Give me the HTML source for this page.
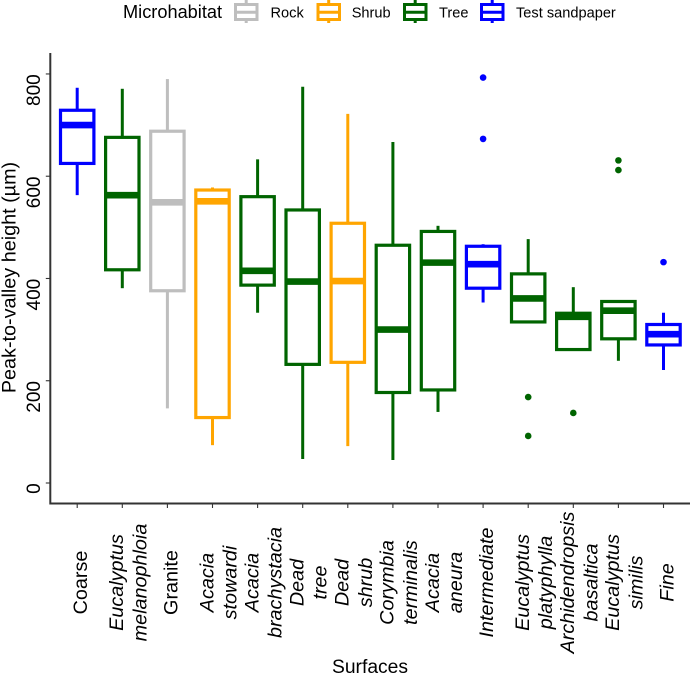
<!DOCTYPE html>
<html>
<head>
<meta charset="utf-8">
<style>
html,body{margin:0;padding:0;background:#fff;}
svg{display:block;font-family:"Liberation Sans",sans-serif;}
</style>
</head>
<body>
<svg id="chart" xmlns="http://www.w3.org/2000/svg" width="690" height="675" viewBox="0 0 690 675">
  <text x="123" y="18" font-size="18.2" fill="#000">Microhabitat</text>
  <text transform="translate(15.3,277.5) rotate(-90)" text-anchor="middle" font-size="19.8" fill="#000">Peak-to-valley height (µm)</text>
  <text x="370" y="673" text-anchor="middle" font-size="19.3" fill="#000">Surfaces</text>
  <g id="marks"></g>
  <g id="axes"></g>
  <g id="legend"></g>
</svg>
<script>
const categories = [["Coarse"],["Eucalyptus","melanophloia"],["Granite"],["Acacia","stowardi"],["Acacia","brachystacia"],["Dead","tree"],["Dead","shrub"],["Corymbia","terminalis"],["Acacia","aneura"],["Intermediate"],["Eucalyptus","platyphylla"],["Archidendropsis","basaltica"],["Eucalyptus","similis"],["Fine"]];
const upright = ["Coarse","Granite"];
const groups = ["Test sandpaper","Tree","Rock","Shrub","Tree","Tree","Shrub","Tree","Tree","Test sandpaper","Tree","Tree","Tree","Test sandpaper"];
const whiskerHigh = [773,771,790,578,633,775,722,667,503,467,477,383,355,333];
const q3 = [729,676,688,573,560,534,508,465,492,463,409,332,355,310];
const medians = [700,563,549,551,415,394,395,300,431,428,361,325,337,291];
const q1 = [625,417,376,128,387,232,236,177,182,381,315,261,282,270];
const whiskerLow = [563,381,146,74,333,47,72,45,139,353,312,261,239,221];
const outliers = [[],[],[],[],[],[],[],[],[],[793,673],[168,92],[137],[631,612],[432]];
const yTicks = [0,200,400,600,800];
const legendGroups = ["Rock","Shrub","Tree","Test sandpaper"];
const palette = {"Rock":"#bebebe","Shrub":"#ffa500","Tree":"#006400","Test sandpaper":"#0000ff"};

const NS = "http://www.w3.org/2000/svg";
const plotLeft = 50.3, plotRight = 690, plotTop = 53, plotBottom = 503.5;
function yScale(v){ return 483 - v * 0.5113; }
function xScale(i){ return 77.2 + 45.1 * i; }
function make(tag, parent, props){
  const el = document.createElementNS(NS, tag);
  for (const k in props) el.setAttribute(k, props[k]);
  parent.appendChild(el);
  return el;
}
const marks = document.getElementById("marks");
const axes = document.getElementById("axes");
const legend = document.getElementById("legend");

categories.forEach(function(cat, i){
  const c = palette[groups[i]];
  const x = xScale(i), hw = 16.7;
  const g = make("g", marks, {});
  
  
  const up = make("line", g, {x1:x, x2:x, y1:yScale(whiskerHigh[i]), y2:yScale(q3[i]), stroke:c, "stroke-width":3});
  
  
  const low = make("line", g, {x1:x, x2:x, y1:yScale(q1[i]), y2:yScale(whiskerLow[i]), stroke:c, "stroke-width":3});
  
  
  const box = make("rect", g, {x:x-hw, width:hw*2, y:yScale(q3[i]), height:yScale(q1[i])-yScale(q3[i]), fill:"#fff", stroke:c, "stroke-width":3.2});
  
  
  const med = make("line", g, {x1:x-hw, x2:x+hw, y1:yScale(medians[i]), y2:yScale(medians[i]), stroke:c, "stroke-width":6.6});
  
  
  outliers[i].forEach(function(v){
    const p = make("circle", g, {cx:x, cy:yScale(v), r:3.3, fill:c});
    
    
  });

  const tick = make("line", axes, {x1:x, x2:x, y1:plotBottom, y2:plotBottom+4.5, stroke:"#333", "stroke-width":1.1});
  
  
  const offsets = cat.length === 1 ? [10] : [0.8, 24];
  cat.forEach(function(line, j){
    const italic = upright.indexOf(line) < 0;
    const t = make("text", axes, {transform:"translate(" + (x + offsets[j]) + ",582.5) rotate(-90)", "text-anchor":"middle", "font-size":19.8, "font-style":italic ? "italic" : "normal", fill:"#000"});
    
    
    t.textContent = line;
  });
});

const yLine = make("line", axes, {x1:plotLeft, x2:plotLeft, y1:plotTop, y2:plotBottom+1, stroke:"#333", "stroke-width":2});


const xLine = make("line", axes, {x1:plotLeft, x2:plotRight, y1:plotBottom, y2:plotBottom, stroke:"#333", "stroke-width":2});



yTicks.forEach(function(v){
  const y = yScale(v);
  const tick = make("line", axes, {x1:plotLeft-4.5, x2:plotLeft, y1:y, y2:y, stroke:"#333", "stroke-width":1.1});
  
  
  const t = make("text", axes, {transform:"translate(40," + (y + 0.3) + ") rotate(-90)", "text-anchor":"end", "font-size":19, fill:"#000"});
  
  
  t.textContent = v;
});

const legendKeyX = [234.5, 317, 403.5, 480.5];
const legendTextX = [270.5, 351.7, 439, 516];
legendGroups.forEach(function(name, i){
  const c = palette[name];
  const kx = legendKeyX[i];
  const g = make("g", legend, {});
  
  
  make("line", g, {x1:kx+11.7, x2:kx+11.7, y1:0, y2:23, stroke:c, "stroke-width":3});
  make("rect", g, {x:kx+1, y:4.5, width:21.5, height:15, fill:"#fff", stroke:c, "stroke-width":3});
  make("line", g, {x1:kx+1, x2:kx+22.5, y1:12.3, y2:12.3, stroke:c, "stroke-width":3});
  const t = make("text", g, {x:legendTextX[i], y:17.5, "font-size":14.6, fill:"#000"});
  
  
  t.textContent = name;
});
</script>
</body>
</html>
